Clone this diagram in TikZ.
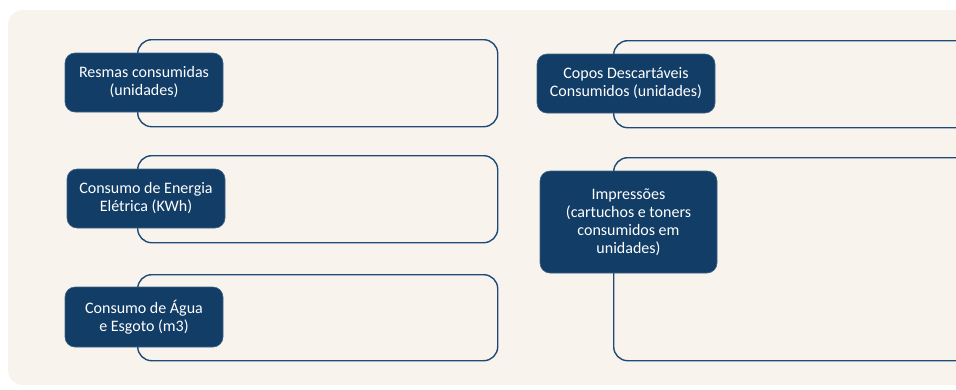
\documentclass[tikz,border=0pt]{standalone}
\usepackage{fontspec}
\setmainfont{Carlito}
\usepackage{tikz}
\usetikzlibrary{positioning}
\definecolor{panelbeige}{HTML}{F8F4ED}
\definecolor{labelnavy}{HTML}{113D66}
\definecolor{framenavy}{HTML}{1F4A75}

\begin{document}
\begin{tikzpicture}[
  x=1pt, y=-1pt,
  every node/.style={font=\fontsize{16}{18}\selectfont},
  framebox/.style={
    rectangle, rounded corners=14pt,
    draw=framenavy, line width=1.4pt,
    anchor=north west, inner sep=0pt,
  },
  tag/.style={
    rectangle, rounded corners=10pt,
    fill=labelnavy, draw=labelnavy!80!white, line width=0.6pt,
    text=white, align=center, inner sep=0pt,
  },
]

\useasboundingbox (0,0) rectangle (956,389);
\clip (0,0) rectangle (956,389);
\fill[panelbeige, rounded corners=15pt] (8,10) rectangle (990,385);

% frames, left column
\node[framebox, minimum width=360pt, minimum height=87pt]  (resmasbox)  at (137,39)  {};
\node[framebox, minimum width=360pt, minimum height=87pt]  (energiabox) at (137,155) {};
\node[framebox, minimum width=360pt, minimum height=86pt]  (aguabox)    at (137,274) {};

% frames, right column
\node[framebox, minimum width=380pt, minimum height=87pt]  (coposbox)   at (613,40)  {};
\node[framebox, minimum width=380pt, minimum height=203pt] (impressbox) at (613,157) {};

% labels
\node[tag, minimum width=158pt, minimum height=59pt]  (resmas)  at (144,82.5)
  {Resmas consumidas\\(unidades)};
\node[tag, minimum width=158pt, minimum height=59pt]  (energia) at (146,198.5)
  {Consumo de Energia\\Elétrica (KWh)};
\node[tag, minimum width=158pt, minimum height=60pt]  (agua)    at (144,317)
  {Consumo de Água\\e Esgoto (m3)};
\node[tag, minimum width=178pt, minimum height=59pt]  (copos)   at (626,83.5)
  {Copos Descartáveis\\Consumidos (unidades)};
\node[tag, minimum width=177pt, minimum height=102pt] (impress) at (628.5,222)
  {Impressões\\(cartuchos e toners\\consumidos em\\unidades)};

\end{tikzpicture}
\end{document}
